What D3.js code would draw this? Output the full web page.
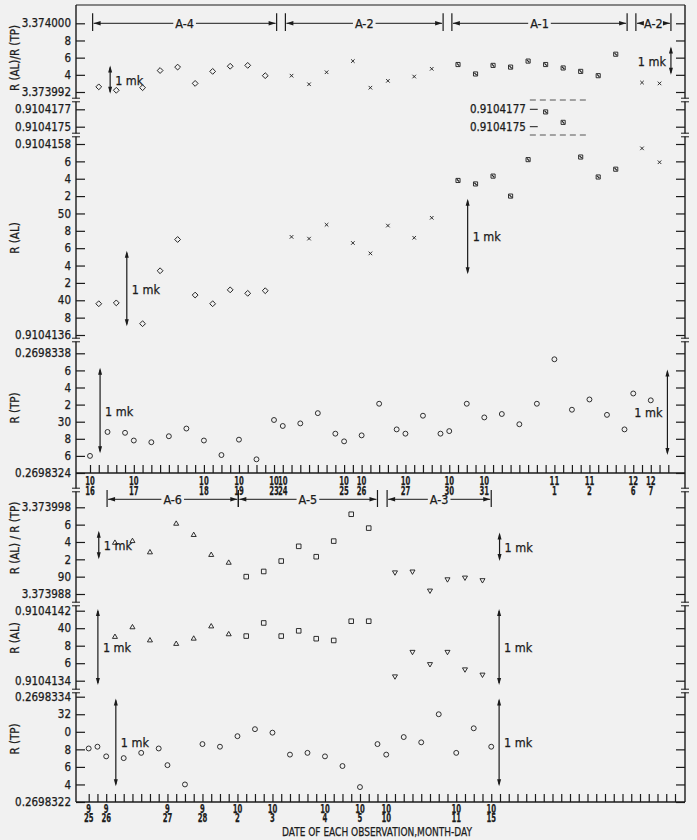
<!DOCTYPE html>
<html>
<head>
<meta charset="utf-8">
<script src="https://cdn.jsdelivr.net/npm/d3@7"></script>
<style>
  body { margin: 0; background: #f1f1f1; }
  svg { display: block; }
  text { font-family: 'Liberation Sans Narrow', 'DejaVu Sans Condensed', 'Arial Narrow', sans-serif; fill: #1b1b1b;
         stroke: #1b1b1b; stroke-width: 0.25px; }
</style>
</head>
<body>
<svg id="chart" width="697" height="840"></svg>
<script>
// ---------------------------------------------------------------
// Data (x = observation slot, one tick per slot on the date axis)
// ---------------------------------------------------------------

// upper chart: dates on the axis
const topDateSlots = [0, 5, 13, 17, 21, 22, 29, 31, 36, 41, 45, 53, 57, 62, 64]
const topDateMonth = ['10', '10', '10', '10', '10', '10', '10', '10', '10', '10', '10', '11', '11', '12', '12']
const topDateDay   = ['16', '17', '18', '19', '23', '24', '25', '26', '27', '30', '31', '1', '2', '6', '7']

// upper chart: R(TP)
const topTpSlots = [0, 2, 4, 5, 7, 9, 11, 13, 15, 17, 19, 21, 22, 24, 26, 28, 29, 31, 33, 35, 36, 38, 40, 41, 43, 45, 47, 49, 51, 53, 55, 57, 59, 61, 62, 64]
const topTp = [0.26983260, 0.26983288, 0.26983287, 0.26983278, 0.26983276, 0.26983283, 0.26983292, 0.26983278,
  0.26983261, 0.26983279, 0.26983256, 0.26983302, 0.26983295, 0.26983298, 0.26983310, 0.26983286, 0.26983277,
  0.26983284, 0.26983321, 0.26983291, 0.26983286, 0.26983307, 0.26983286, 0.26983289, 0.26983321, 0.26983305,
  0.26983309, 0.26983297, 0.26983321, 0.26983373, 0.26983314, 0.26983326, 0.26983308, 0.26983291, 0.26983333,
  0.26983325]

// upper chart: R(AL) and R(AL)/R(TP), same slots
const topAlSlots = [1, 3, 6, 8, 10, 12, 14, 16, 18, 20, 23, 25, 27, 30, 32, 34, 37, 39, 42, 44, 46, 48, 50, 52, 54, 56, 58, 60, 63, 65]
const topAlGroup = ['A-4', 'A-4', 'A-4', 'A-4', 'A-4', 'A-4', 'A-4', 'A-4', 'A-4', 'A-4',
  'A-2', 'A-2', 'A-2', 'A-2', 'A-2', 'A-2', 'A-2', 'A-2',
  'A-1', 'A-1', 'A-1', 'A-1', 'A-1', 'A-1', 'A-1', 'A-1', 'A-1', 'A-1',
  'A-2', 'A-2']
const topAl = [0.91041396, 0.91041397, 0.91041373, 0.91041434, 0.91041470, 0.91041406, 0.91041396, 0.91041412,
  0.91041408, 0.91041411, 0.91041473, 0.91041471, 0.91041487, 0.91041466, 0.91041454, 0.91041486, 0.91041472,
  0.91041495, 0.91041538, 0.91041534, 0.91041543, 0.91041520, 0.91041562, 0.91041767, 0.91041755, 0.91041565,
  0.91041542, 0.91041551, 0.91041575, 0.91041559]
const topRatio = [3.3739926, 3.3739922, 3.3739925, 3.3739945, 3.3739949, 3.3739930, 3.3739944, 3.3739950,
  3.3739951, 3.3739939, 3.3739939, 3.3739929, 3.3739943, 3.3739956, 3.3739925, 3.3739933, 3.3739938,
  3.3739947, 3.3739952, 3.3739941, 3.3739951, 3.3739949, 3.3739956, 3.3739952, 3.3739948, 3.3739944,
  3.3739939, 3.3739964, 3.3739931, 3.3739930]

// upper chart: cell periods
const topPeriodName  = ['A-4', 'A-2', 'A-1', 'A-2']
const topPeriodStart = [0.3, 22.3, 41.3, 62.3]
const topPeriodEnd   = [21.3, 40.3, 61.3, 66.3]

// lower chart: dates on the axis
const botDateSlots = [0, 2, 9, 13, 17, 21, 27, 31, 34, 42, 46]
const botDateMonth = ['9', '9', '9', '9', '10', '10', '10', '10', '10', '10', '10']
const botDateDay   = ['25', '26', '27', '28', '2', '3', '4', '5', '10', '11', '15']

// lower chart: R(TP)
const botTpSlots = [0, 1, 2, 4, 6, 8, 9, 11, 13, 15, 17, 19, 21, 23, 25, 27, 29, 31, 33, 34, 36, 38, 40, 42, 44, 46]
const botTp = [0.26983281, 0.26983283, 0.26983272, 0.26983270, 0.26983276, 0.26983281, 0.26983262, 0.26983240,
  0.26983286, 0.26983283, 0.26983295, 0.26983303, 0.26983299, 0.26983274, 0.26983276, 0.26983272, 0.26983261,
  0.26983237, 0.26983286, 0.26983274, 0.26983294, 0.26983288, 0.26983320, 0.26983276, 0.26983304, 0.26983283]

// lower chart: R(AL) and R(AL)/R(TP)
const botAlSlots = [3, 5, 7, 10, 12, 14, 16, 18, 20, 22, 24, 26, 28, 30, 32, 35, 37, 39, 41, 43, 45]
const botAlGroup = ['A-6', 'A-6', 'A-6', 'A-6', 'A-6', 'A-6', 'A-6',
  'A-5', 'A-5', 'A-5', 'A-5', 'A-5', 'A-5', 'A-5', 'A-5',
  'A-3', 'A-3', 'A-3', 'A-3', 'A-3', 'A-3']
const botAl = [0.91041390, 0.91041401, 0.91041386, 0.91041382, 0.91041388, 0.91041402, 0.91041393, 0.91041391,
  0.91041406, 0.91041391, 0.91041397, 0.91041388, 0.91041386, 0.91041408, 0.91041408, 0.91041345, 0.91041373,
  0.91041359, 0.91041373, 0.91041353, 0.91041347]
const botRatio = [3.3739939, 3.3739941, 3.3739928, 3.3739961, 3.3739948, 3.3739925, 3.3739916, 3.3739900,
  3.3739906, 3.3739918, 3.3739935, 3.3739923, 3.3739941, 3.3739972, 3.3739956, 3.3739905, 3.3739906,
  3.3739884, 3.3739897, 3.3739899, 3.3739896]

const botPeriodName  = ['A-6', 'A-5', 'A-3']
const botPeriodStart = [2.1, 17.1, 34.1]
const botPeriodEnd   = [17.1, 33.0, 46.0]

// tick labels
const topRatioTicks = ['3.373992', '4', '6', '8', '3.374000']
const topAlTicks    = ['0.9104136', '8', '40', '2', '4', '6', '8', '50', '2', '4', '6', '0.9104158']
const topAlHiTicks  = ['0.9104175', '0.9104177']
const topTpTicks    = ['0.2698324', '6', '8', '30', '2', '4', '6', '0.2698338']
const botRatioTicks = ['3.373988', '90', '2', '4', '6', '3.373998']
const botAlTicks    = ['0.9104134', '6', '8', '40', '0.9104142']
const botTpTicks    = ['0.2698322', '4', '6', '8', '0', '32', '0.2698334']

// "1 mk" spans in each quantity
const MK_RATIO = 3.3e-6, MK_AL = 8.7e-7, MK_TP = 1.0e-6

// ---------------------------------------------------------------
// Layout
// ---------------------------------------------------------------
const INK = '#1b1b1b'
const BG = '#f1f1f1'
const AX_L = 76, AX_R = 685
const TICK = 9

const svg = d3.select('#chart')

const xTop = d3.scaleLinear().domain([0, 66]).range([90, 668.3])
const xBot = d3.scaleLinear().domain([0, 67]).range([88.7, 675])

const yTopRatio = d3.scaleLinear().domain([3.373992, 3.374000]).range([92, 23.3])
const yTopAl    = d3.scaleLinear().domain([0.9104136, 0.9104158]).range([335, 144])
const yTopAlHi  = d3.scaleLinear().domain([0.9104175, 0.9104177]).range([126.7, 109.3])
const yTopTp    = d3.scaleLinear().domain([0.2698324, 0.2698338]).range([473, 353.3])
const yBotRatio = d3.scaleLinear().domain([3.373988, 3.373998]).range([594, 507.3])
const yBotAl    = d3.scaleLinear().domain([0.9104134, 0.9104142]).range([680.7, 610.7])
const yBotTp    = d3.scaleLinear().domain([0.2698322, 0.2698334]).range([802, 696.7])

const TOP_BASE = 473, BOT_BASE = 802

function tickVals(scale, n) {
    const [a, b] = scale.domain()
    return d3.range(n).map(i => a + i * (b - a) / (n - 1))
}

// left + right value axes for a panel
function yAxis(scale, labels) {
    const vals = tickVals(scale, labels.length)
    const left = svg.append('g').attr('transform', `translate(${AX_L},0)`)
        .call(d3.axisLeft(scale).tickValues(vals).tickSizeInner(-TICK).tickSizeOuter(0)
            .tickPadding(5).tickFormat((d, i) => labels[i]))
    const right = svg.append('g').attr('transform', `translate(${AX_R},0)`)
        .call(d3.axisRight(scale).tickValues(vals).tickSizeInner(-TICK).tickSizeOuter(0)
            .tickFormat(''))
    for (const g of [left, right]) {
        g.select('.domain').remove()
        g.selectAll('line').attr('stroke', INK).attr('stroke-width', 1.2)
        g.selectAll('text').attr('fill', INK).style('font-size', '11.5px')
            .style('font-family', null)
    }
}

// frame: outer vertical axes, top line, baselines
svg.append('line').attr('x1', AX_L).attr('x2', AX_L).attr('y1', 5).attr('y2', BOT_BASE)
    .attr('stroke', INK).attr('stroke-width', 1.4)
svg.append('line').attr('x1', AX_R).attr('x2', AX_R).attr('y1', 5).attr('y2', BOT_BASE)
    .attr('stroke', INK).attr('stroke-width', 1.4)
svg.append('line').attr('x1', AX_L).attr('x2', AX_R).attr('y1', 5).attr('y2', 5)
    .attr('stroke', INK).attr('stroke-width', 1.2)

// date labels are set in a condensed face: squeeze each glyph
function dateText(g, x, y, s) {
    g.append('text').attr('x', x).attr('y', y).text(s)
        .attr('textLength', s.length * 4.8).attr('lengthAdjust', 'spacingAndGlyphs')
}

function xAxis(xs, base, nSlots, slots, months, days, monthY, dayY) {
    const g = svg.append('g').attr('transform', `translate(0,${base})`)
        .call(d3.axisBottom(xs).tickValues(d3.range(nSlots + 1)).tickSizeInner(-8).tickSizeOuter(0).tickFormat(''))
    g.select('.domain').remove()
    g.selectAll('line').attr('stroke', INK).attr('stroke-width', 1.2)
    svg.append('line').attr('x1', AX_L).attr('x2', AX_R).attr('y1', base).attr('y2', base)
        .attr('stroke', INK).attr('stroke-width', 1.3)
    const lab = svg.append('g').style('font-size', '12.5px').style('font-weight', 'bold')
        .attr('text-anchor', 'middle')
    slots.forEach((s, i) => {
        dateText(lab, xs(s), monthY, months[i])
        dateText(lab, xs(s), dayY, days[i])
    })
}

xAxis(xTop, TOP_BASE, 66, topDateSlots, topDateMonth, topDateDay, 484.5, 494.5)
xAxis(xBot, BOT_BASE, 67, botDateSlots, botDateMonth, botDateDay, 812.5, 822)

yAxis(yTopRatio, topRatioTicks)
yAxis(yTopAl, topAlTicks)
yAxis(yTopAlHi, topAlHiTicks)
yAxis(yTopTp, topTpTicks)
yAxis(yBotRatio, botRatioTicks)
yAxis(yBotAl, botAlTicks)
yAxis(yBotTp, botTpTicks)

// axis breaks
const breakYs = [100, 135, 340, 490, 604, 691]
for (const x of [AX_L, AX_R]) {
    for (const y of breakYs) {
        svg.append('rect').attr('x', x - 3).attr('y', y - 1.5).attr('width', 6).attr('height', 3).attr('fill', BG)
        for (const dy of [-1.8, 1.8]) {
            svg.append('line').attr('x1', x - 4).attr('x2', x + 4).attr('y1', y + dy).attr('y2', y + dy)
                .attr('stroke', INK).attr('stroke-width', 1)
        }
    }
}

// axis titles
const titles = [
    ['R (AL)/R (TP)', 58], ['R (AL)', 238], ['R (TP)', 408],
    ['R (AL) / R (TP)', 538], ['R (AL)', 638], ['R (TP)', 739]
]
for (const [t, y] of titles) {
    svg.append('text').attr('transform', `translate(19,${y}) rotate(-90)`)
        .attr('text-anchor', 'middle').style('font-size', '11.5px').text(t)
}
svg.append('text').attr('x', 377).attr('y', 836).attr('text-anchor', 'middle')
    .style('font-size', '12px').attr('textLength', 190).attr('lengthAdjust', 'spacingAndGlyphs')
    .text('DATE OF EACH OBSERVATION,MONTH-DAY')

// ---------------------------------------------------------------
// Period brackets
// ---------------------------------------------------------------
function arrowHead(g, x, y, dir) {
    g.append('path').attr('d', `M${x},${y}L${x - dir * 7},${y - 2.2}L${x - dir * 7},${y + 2.2}Z`).attr('fill', INK)
}

function brackets(xs, y, y0, y1, names, starts, ends) {
    const g = svg.append('g')
    names.forEach((name, i) => {
        const a = xs(starts[i]), b = xs(ends[i]), m = (a + b) / 2
        for (const x of [a, b]) {
            g.append('line').attr('x1', x).attr('x2', x).attr('y1', y0).attr('y2', y1)
                .attr('stroke', INK).attr('stroke-width', 1.2)
        }
        const t = g.append('text').attr('x', m).attr('y', y + 4.5).attr('text-anchor', 'middle')
            .style('font-size', '12.5px').text(name)
        const w = t.node().getComputedTextLength()
        g.append('line').attr('x1', a + 1).attr('x2', m - w / 2 - 2).attr('y1', y).attr('y2', y)
            .attr('stroke', INK).attr('stroke-width', 1)
        g.append('line').attr('x1', m + w / 2 + 2).attr('x2', b - 1).attr('y1', y).attr('y2', y)
            .attr('stroke', INK).attr('stroke-width', 1)
        arrowHead(g, a + 1, y, -1)
        arrowHead(g, b - 1, y, 1)
    })
}

brackets(xTop, 23.3, 13.3, 31, topPeriodName, topPeriodStart, topPeriodEnd)
brackets(xBot, 499.3, 490, 507, botPeriodName, botPeriodStart, botPeriodEnd)

// ---------------------------------------------------------------
// Markers
// ---------------------------------------------------------------
const marker = {
    'A-4': { type: d3.symbolSquare, size: 17, rotate: 45 },
    'A-2': { type: d3.symbolTimes, size: 10, rotate: 0 },
    'A-1': { type: d3.symbolSquare, size: 17, rotate: 0, boxed: true },
    'A-6': { type: d3.symbolTriangle, size: 11, rotate: 0 },
    'A-5': { type: d3.symbolSquare, size: 21, rotate: 0 },
    'A-3': { type: d3.symbolTriangle, size: 11, rotate: 180 },
    'TP':  { type: d3.symbolCircle, size: 19, rotate: 0 }
}

function plot(xs, slots, values, groups, yOf) {
    const g = svg.append('g')
    slots.forEach((s, i) => {
        const m = marker[groups ? groups[i] : 'TP']
        const cx = xs(s), cy = yOf(values[i])
        g.append('path')
            .attr('d', d3.symbol().type(m.type).size(m.size)())
            .attr('transform', `translate(${cx},${cy}) rotate(${m.rotate})`)
            .attr('fill', 'none').attr('stroke', INK).attr('stroke-width', 0.9)
        if (m.boxed) {
            g.append('path').attr('d', `M${cx - 1.2},${cy - 1.2}L${cx + 1.2},${cy + 1.2}`)
                .attr('stroke', INK).attr('stroke-width', 1.1)
        }
    })
}

plot(xTop, topTpSlots, topTp, null, yTopTp)
plot(xTop, topAlSlots, topAl, topAlGroup, v => v > 0.910417 ? yTopAlHi(v) : yTopAl(v))
plot(xTop, topAlSlots, topRatio, topAlGroup, yTopRatio)
plot(xBot, botTpSlots, botTp, null, yBotTp)
plot(xBot, botAlSlots, botAl, botAlGroup, yBotAl)
plot(xBot, botAlSlots, botRatio, botAlGroup, yBotRatio)

// inset scale for the two off-range R(AL) points
const inset = svg.append('g')
for (const y of [100, 135]) {
    inset.append('line').attr('x1', xTop(50.2)).attr('x2', xTop(57)).attr('y1', y).attr('y2', y)
        .attr('stroke', '#555').attr('stroke-width', 1).attr('stroke-dasharray', '6,4')
}
topAlHiTicks.forEach((t, i) => {
    const y = yTopAlHi(tickVals(yTopAlHi, 2)[i])
    inset.append('line').attr('x1', xTop(50.2)).attr('x2', xTop(51.1)).attr('y1', y).attr('y2', y)
        .attr('stroke', INK).attr('stroke-width', 1)
    inset.append('text').attr('x', xTop(50.2) - 4).attr('y', y + 4).attr('text-anchor', 'end')
        .style('font-size', '11.5px').text(t)
})

// ---------------------------------------------------------------
// "1 mk" arrows
// ---------------------------------------------------------------
const mkMarks = [
    { xs: xTop, y: yTopRatio, slot: 2.3, top: 3.3739951, span: MK_RATIO, side: 1 },
    { xs: xTop, y: yTopRatio, slot: 66.3, top: 3.3739973, span: MK_RATIO, side: -1 },
    { xs: xTop, y: yTopAl, slot: 4.2, top: 0.91041457, span: MK_AL, side: 1 },
    { xs: xTop, y: yTopAl, slot: 43.1, top: 0.91041517, span: MK_AL, side: 1 },
    { xs: xTop, y: yTopTp, slot: 1.15, top: 0.26983363, span: MK_TP, side: 1 },
    { xs: xTop, y: yTopTp, slot: 65.9, top: 0.26983361, span: MK_TP, side: -1 },
    { xs: xBot, y: yBotRatio, slot: 1.15, top: 3.3739953, span: MK_RATIO, side: 1 },
    { xs: xBot, y: yBotRatio, slot: 46.95, top: 3.3739951, span: MK_RATIO, side: 1 },
    { xs: xBot, y: yBotAl, slot: 1.05, top: 0.91041422, span: MK_AL, side: 1 },
    { xs: xBot, y: yBotAl, slot: 46.9, top: 0.91041422, span: MK_AL, side: 1 },
    { xs: xBot, y: yBotTp, slot: 3.1, top: 0.26983338, span: MK_TP, side: 1 },
    { xs: xBot, y: yBotTp, slot: 46.9, top: 0.26983338, span: MK_TP, side: 1 }
]
for (const mk of mkMarks) {
    const x = mk.xs(mk.slot), y0 = mk.y(mk.top), y1 = mk.y(mk.top - mk.span)
    svg.append('line').attr('x1', x).attr('x2', x).attr('y1', y0 + 2).attr('y2', y1 - 2)
        .attr('stroke', INK).attr('stroke-width', 1.2)
    svg.append('path').attr('d', `M${x},${y0}L${x - 2},${y0 + 7}L${x + 2},${y0 + 7}Z`).attr('fill', INK)
    svg.append('path').attr('d', `M${x},${y1}L${x - 2},${y1 - 7}L${x + 2},${y1 - 7}Z`).attr('fill', INK)
    svg.append('text').attr('x', x + mk.side * 5).attr('y', (y0 + y1) / 2 + 5)
        .attr('text-anchor', mk.side > 0 ? 'start' : 'end').style('font-size', '12.5px').text('1 mk')
}
</script>
</body>
</html>
